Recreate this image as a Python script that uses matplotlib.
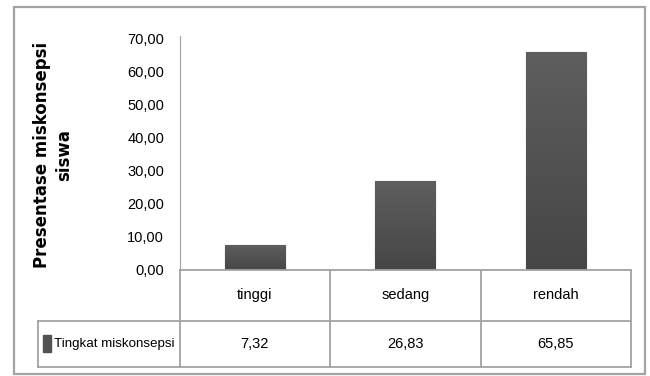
import matplotlib
matplotlib.use("Agg")
import matplotlib.pyplot as plt
import numpy as np
from matplotlib.colors import LinearSegmentedColormap
from matplotlib.patches import Rectangle

categories = ["tinggi", "sedang", "rendah"]
values = [7.32, 26.83, 65.85]
series_name = "Tingkat miskonsepsi"
ylabel = "Presentase miskonsepsi\nsiswa"
yticks = [0, 10, 20, 30, 40, 50, 60, 70]

W, H = 650, 376
grid_col = "#a3a3a3"
narrow = ["Liberation Sans", "DejaVu Sans"]
fs = 10.5


def fx(px):
    return px / W


def fy(py):
    return 1 - py / H


def fmt(v):
    return ("%.2f" % v).replace(".", ",")


fig = plt.figure(figsize=(W / 100, H / 100), dpi=100)

# outer frame
fig.patches.append(Rectangle((fx(14), fy(374)), fx(645) - fx(14), fy(7) - fy(374),
                             transform=fig.transFigure, fill=False,
                             edgecolor=grid_col, lw=1.6))

left, right, top, base = 179.5, 631, 38.3, 269.5
ax = fig.add_axes([fx(left), fy(base), fx(right) - fx(left), fy(top) - fy(base)])
x = np.arange(len(categories))
bars = ax.bar(x, values, width=0.4, color="#525252", edgecolor="#a0a0a0", lw=0.9, zorder=2)

# vertical shading on each bar
shade = LinearSegmentedColormap.from_list("shade", ["#464646", "#5e5e5e"])
grad = np.linspace(0, 1, 64).reshape(-1, 1)
for b in bars:
    x0, y0 = b.get_x(), b.get_y()
    im = ax.imshow(grad, cmap=shade, origin="lower", aspect="auto",
                   extent=(x0, x0 + b.get_width(), y0, y0 + b.get_height()), zorder=3)
    im.set_clip_path(b)
ax.set_xlim(-0.5, 2.5)
ax.set_ylim(0, 70)

for s in ["top", "right", "bottom"]:
    ax.spines[s].set_visible(False)
ax.spines["left"].set_color(grid_col)
ax.spines["left"].set_bounds(0, 70.6)
ax.set_xticks([])
ax.set_yticks(yticks)
ax.set_yticklabels([fmt(t) for t in yticks], family=narrow, fontsize=fs)
ax.tick_params(axis="y", length=0, pad=11)

fig.text(fx(53), fy(155), ylabel, rotation=90, ha="center", va="center",
         fontsize=12, fontweight="bold", linespacing=1.35)

# data table under the plot
leg_left, row_mid, tab_bot = 37.7, 321, 366.5
col_w = (right - left) / 3
tab = fig.add_axes([fx(leg_left), fy(tab_bot), fx(right) - fx(leg_left), fy(base) - fy(tab_bot)])
xl = -0.5 - (left - leg_left) / col_w
tab.set_xlim(xl, 2.5)
tab.set_ylim(0, tab_bot - base)
tab.axis("off")
ytop = tab_bot - base
ymid = tab_bot - row_mid
lk = dict(color=grid_col, lw=1.3, clip_on=False)
tab.plot([-0.5, 2.5], [ytop, ytop], **lk)
tab.plot([xl, 2.5], [ymid, ymid], **lk)
tab.plot([xl, 2.5], [0, 0], **lk)
tab.plot([xl, xl], [0, ymid], **lk)
for bx in [-0.5, 0.5, 1.5, 2.5]:
    tab.plot([bx, bx], [0, ytop], **lk)

for i, (c, v) in enumerate(zip(categories, values)):
    tab.text(i, (ytop + ymid) / 2, c, ha="center", va="center", family=narrow, fontsize=fs)
    tab.text(i, ymid / 2, fmt(v), ha="center", va="center", family=narrow, fontsize=fs)

tab.add_patch(Rectangle((xl + 5 / col_w, ymid / 2 - 8.5), 8 / col_w, 17,
                        color="#525252", clip_on=False))
tab.text(xl + 16 / col_w, ymid / 2, series_name, ha="left", va="center",
         family=narrow, fontsize=9.6)

fig.savefig("out.png", dpi=100)
